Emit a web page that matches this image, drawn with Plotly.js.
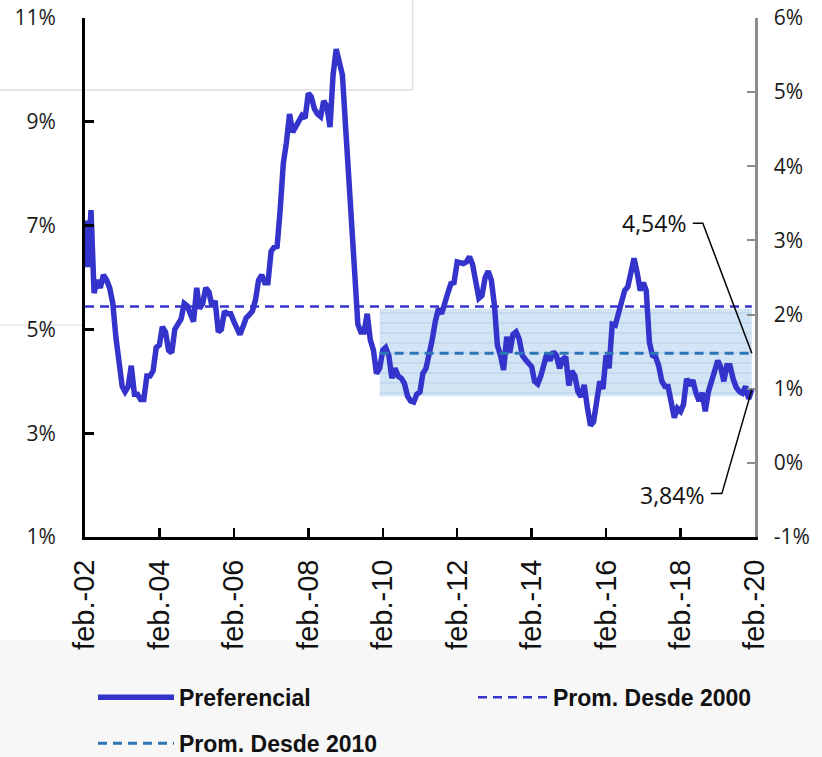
<!DOCTYPE html>
<html>
<head>
<meta charset="utf-8">
<script src="https://cdn.plot.ly/plotly-3.0.1.min.js"></script>
<style>
  html, body { margin: 0; padding: 0; background: #ffffff; }
  #chart { width: 822px; height: 757px; }
</style>
</head>
<body>
<div id="chart"></div>
<script>
// ---- Data (monthly, from feb-2002) ----
const startYear = 2002;
const startMonth = 2; // February
const v2002 = [7.1, 6.2, 7.3, 5.7, 5.95, 5.8, 6.05, 5.95, 5.8, 5.5, 4.85];
const v2003 = [4.3, 3.9, 3.8, 3.9, 4.3, 3.75, 3.75, 3.65, 3.65, 4.1, 4.1, 4.2];
const v2004 = [4.65, 4.7, 5.05, 4.95, 4.6, 4.55, 5.0, 5.12, 5.2, 5.5, 5.45, 5.3];
const v2005 = [5.15, 5.8, 5.4, 5.5, 5.8, 5.72, 5.45, 5.55, 4.95, 5.0, 5.35, 5.3];
const v2006 = [5.3, 5.15, 5.0, 4.9, 5.05, 5.22, 5.28, 5.35, 5.57, 5.95, 6.05, 5.9];
const v2007 = [5.9, 6.5, 6.58, 6.6, 7.3, 8.2, 8.6, 9.15, 8.8, 8.9, 9.0, 9.12];
const v2008 = [9.07, 9.55, 9.48, 9.25, 9.15, 9.1, 9.4, 9.3, 8.9, 9.9, 10.4, 10.2];
const v2009 = [9.9, 8.9, 7.9, 6.9, 6.1, 5.1, 4.95, 4.95, 5.3, 4.8, 4.6, 4.15];
const v2010 = [4.25, 4.6, 4.65, 4.5, 4.06, 4.25, 4.1, 4.06, 3.96, 3.72, 3.62, 3.6];
const v2011 = [3.75, 3.8, 4.15, 4.25, 4.5, 4.8, 5.15, 5.4, 5.3, 5.55, 5.7, 5.88];
const v2012 = [5.9, 6.3, 6.28, 6.27, 6.3, 6.4, 6.25, 5.85, 5.6, 5.65, 6.0, 6.12];
const v2013 = [5.95, 5.45, 4.7, 4.5, 4.22, 4.86, 4.55, 4.9, 4.95, 4.82, 4.5, 4.42];
const v2014 = [4.35, 4.28, 4.0, 3.95, 4.1, 4.3, 4.54, 4.4, 4.57, 4.5, 4.25, 4.42];
const v2015 = [4.47, 3.92, 4.2, 4.1, 3.8, 3.7, 3.93, 3.5, 3.15, 3.22, 3.6, 4.0];
const v2016 = [3.85, 4.5, 4.25, 5.1, 5.08, 5.3, 5.6, 5.75, 5.82, 6.1, 6.37, 6.1];
const v2017 = [5.75, 5.9, 5.75, 4.75, 4.5, 4.47, 4.3, 4.0, 3.9, 3.9, 3.62, 3.3];
const v2018 = [3.48, 3.42, 3.55, 4.05, 3.92, 4.02, 3.78, 3.62, 3.78, 3.42, 3.8, 4.03];
const v2019 = [4.25, 4.4, 4.28, 4.0, 4.3, 4.3, 4.05, 3.88, 3.8, 3.77, 3.9, 3.66];
const v2020 = [3.84];

const prom2000 = 5.44;          // Prom. Desde 2000
const prom2010 = 4.54;          // Prom. Desde 2010
const bandLow = 3.71;           // banda (desde 2010)
const bandHigh = 5.40;
const prom2010Start = '2010-01-01';

const xTickVals = ['2002-02-01','2004-02-01','2006-02-01','2008-02-01','2010-02-01',
                   '2012-02-01','2014-02-01','2016-02-01','2018-02-01','2020-02-01'];
const xTickText = ['feb.-02','feb.-04','feb.-06','feb.-08','feb.-10',
                   'feb.-12','feb.-14','feb.-16','feb.-18','feb.-20'];
const leftTickVals = [1, 3, 5, 7, 9, 11];
const leftTickText = ['1%', '3%', '5%', '7%', '9%', '11%'];
const rightTickVals = [-1, 0, 1, 2, 3, 4, 5, 6];
const rightTickText = ['-1%', '0%', '1%', '2%', '3%', '4%', '5%', '6%'];
const label2010 = '4,54%';
const labelLast = '3,84%';

// ---- Build ----
const preferencial = [].concat(v2002, v2003, v2004, v2005, v2006, v2007, v2008, v2009,
  v2010, v2011, v2012, v2013, v2014, v2015, v2016, v2017, v2018, v2019, v2020);
const dates = preferencial.map((_, i) => {
  const t = (startMonth - 1) + i;
  const y = startYear + Math.floor(t / 12);
  const m = (t % 12) + 1;
  return y + '-' + String(m).padStart(2, '0') + '-01';
});
const lastDate = dates[dates.length - 1];
const lastVal = preferencial[preferencial.length - 1];
const d2010 = dates.filter(d => d >= prom2010Start);

const BLUE = '#3434CC';
const TEAL = '#2E75B6';
const FONT = 'Liberation Sans, Arial, sans-serif';
const FONT2 = 'Open Sans, Liberation Sans, sans-serif';

const traces = [
  { x: d2010, y: d2010.map(() => bandLow), mode: 'lines', line: { width: 0, color: 'rgba(0,0,0,0)' },
    showlegend: false, hoverinfo: 'skip' },
  { x: d2010, y: d2010.map(() => bandHigh), mode: 'lines', line: { width: 0, color: 'rgba(0,0,0,0)' },
    fill: 'tonexty', fillcolor: '#d3e4f4',
    fillpattern: { shape: '-', bgcolor: '#d3e4f4', fgcolor: '#b5d3ee', size: 10, solidity: 0.12 },
    showlegend: false, hoverinfo: 'skip' },
  { x: dates, y: preferencial, mode: 'lines', name: 'Preferencial',
    line: { color: BLUE, width: 5.5 }, legend: 'legend' },
  { x: dates, y: dates.map(() => prom2000), mode: 'lines', name: 'Prom. Desde 2000',
    line: { color: BLUE, width: 2.5, dash: '9px,6px' }, legend: 'legend2' },
  { x: d2010, y: d2010.map(() => prom2010), mode: 'lines', name: 'Prom. Desde 2010',
    line: { color: TEAL, width: 3, dash: '9px,6px' }, legend: 'legend3' },
  { x: [null], y: [null], yaxis: 'y2', showlegend: false, hoverinfo: 'skip', mode: 'lines' }
];

const legendCommon = {
  xref: 'container', yref: 'container', yanchor: 'middle', xanchor: 'left',
  bgcolor: 'rgba(0,0,0,0)', borderwidth: 0,
  font: { family: FONT, size: 23, color: '#111111', weight: 'bold' }
};

const layout = {
  width: 822, height: 757,
  margin: { l: 85, r: 67, t: 18, b: 220, pad: 0, autoexpand: false },
  paper_bgcolor: '#ffffff',
  plot_bgcolor: 'rgba(0,0,0,0)',
  showlegend: true,
  legend: Object.assign({}, legendCommon, { x: 93 / 822, y: 0.079, itemwidth: 76 }),
  legend2: Object.assign({}, legendCommon, { x: 473 / 822, y: 0.079, itemwidth: 70 }),
  legend3: Object.assign({}, legendCommon, { x: 93 / 822, y: 0.018, itemwidth: 76 }),
  xaxis: {
    type: 'date', range: ['2002-02-01', '2020-02-01'],
    tickmode: 'array', tickvals: xTickVals, ticktext: xTickText, tickangle: -90,
    ticks: 'inside', ticklen: 9, tickwidth: 2.5, tickcolor: '#000',
    showline: true, linewidth: 3, linecolor: '#000', mirror: false,
    showgrid: false, zeroline: false, ticklabelstandoff: 8,
    tickfont: { family: FONT, size: 29, color: '#111111' }
  },
  yaxis: {
    range: [1, 11], tickmode: 'array', tickvals: leftTickVals, ticktext: leftTickText,
    ticks: 'inside', ticklen: 9, tickwidth: 3, tickcolor: '#000',
    showline: true, linewidth: 3, linecolor: '#000',
    showgrid: false, zeroline: false, ticklabelstandoff: 22,
    tickfont: { family: FONT2, size: 21, color: '#1a1a1a' }
  },
  yaxis2: {
    overlaying: 'y', side: 'right', range: [-1, 6],
    tickmode: 'array', tickvals: rightTickVals, ticktext: rightTickText,
    ticks: 'inside', ticklen: 8, tickwidth: 2, tickcolor: '#8c8c8c',
    showline: true, linewidth: 2.5, linecolor: '#8c8c8c',
    showgrid: false, zeroline: false, ticklabelstandoff: 12,
    tickfont: { family: FONT2, size: 21, color: '#1a1a1a' }
  },
  shapes: [
    // light gray background at the bottom of the picture
    { type: 'rect', xref: 'paper', yref: 'paper', x0: -0.2, x1: 1.2, y0: -0.1985, y1: -0.5,
      fillcolor: '#f7f7f7', line: { width: 0 }, layer: 'below' },
    // faint frame lines in the top-left corner
    { type: 'line', xref: 'paper', yref: 'paper', x0: -0.127, x1: 0.489, y0: 0.8613, y1: 0.8613,
      line: { color: '#e6e6e6', width: 2 }, layer: 'below' },
    { type: 'line', xref: 'paper', yref: 'paper', x0: 0.489, x1: 0.489, y0: 0.8613, y1: 1.04,
      line: { color: '#e6e6e6', width: 2 }, layer: 'below' },
    { type: 'line', xref: 'paper', yref: 'paper', x0: -0.127, x1: 0, y0: 0.408, y1: 0.408,
      line: { color: '#ececec', width: 2 }, layer: 'below' },
    // leader lines of the labels
    { type: 'path', xref: 'x', yref: 'y', xsizemode: 'pixel', ysizemode: 'pixel',
      xanchor: lastDate, yanchor: prom2010, path: 'M0,0 L-49,130 L-59,130',
      line: { color: '#000', width: 1.5 } },
    { type: 'path', xref: 'x', yref: 'y', xsizemode: 'pixel', ysizemode: 'pixel',
      xanchor: lastDate, yanchor: lastVal, path: 'M0,0 L-30,-104 L-41,-104',
      line: { color: '#000', width: 1.5 } }
  ],
  annotations: [
    { x: lastDate, y: prom2010, xref: 'x', yref: 'y', text: label2010, showarrow: false,
      xanchor: 'right', yanchor: 'middle', xshift: -64, yshift: 130,
      font: { family: FONT2, size: 23, color: '#111111' } },
    { x: lastDate, y: lastVal, xref: 'x', yref: 'y', text: labelLast, showarrow: false,
      xanchor: 'right', yanchor: 'middle', xshift: -46, yshift: -105,
      font: { family: FONT2, size: 23, color: '#111111' } }
  ]
};

Plotly.newPlot('chart', traces, layout, { displayModeBar: false, staticPlot: true });
</script>
</body>
</html>
